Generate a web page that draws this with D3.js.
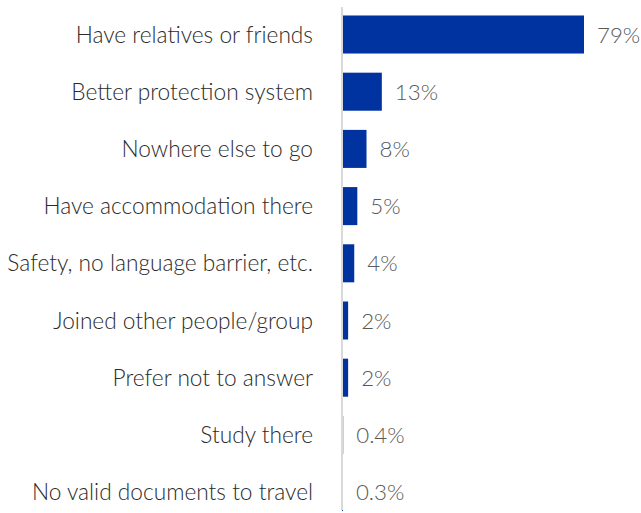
<!DOCTYPE html>
<html>
<head>
<meta charset="utf-8">
<script src="https://cdn.jsdelivr.net/npm/d3@7"></script>
<style>
  html, body { margin: 0; padding: 0; background: #fff; }
  svg { display: block; }
  text { font-family: Lato, "Open Sans", sans-serif; font-weight: 300; }
</style>
</head>
<body>
<svg id="chart" width="641" height="513"></svg>
<script>
// Reasons for choosing the destination (share of respondents, %)
const reasons = [
  "Have relatives or friends",
  "Better protection system",
  "Nowhere else to go",
  "Have accommodation there",
  "Safety, no language barrier, etc.",
  "Joined other people/group",
  "Prefer not to answer",
  "Study there",
  "No valid documents to travel"
];
const shares = [79, 13, 8, 5, 4, 2, 2, 0.4, 0.3];
const shareLabels = ["79%", "13%", "8%", "5%", "4%", "2%", "2%", "0.4%", "0.3%"];

const rows = reasons.map((r, i) => ({ reason: r, value: shares[i], label: shareLabels[i] }));

const svg = d3.select("#chart");
const axisX = 342;

const x = d3.scaleLinear().domain([0, 79]).range([axisX, 584]);
const y = d3.scaleBand()
  .domain(reasons)
  .range([5.9, 520.7])
  .paddingInner(0.335)
  .paddingOuter(0.1675);

// bars
svg.append("g")
  .selectAll("rect")
  .data(rows)
  .join("rect")
  .attr("x", x(0))
  .attr("y", d => y(d.reason))
  .attr("width", d => x(d.value) - x(0))
  .attr("height", y.bandwidth())
  .attr("fill", "#0033a0");

// category axis line
svg.append("line")
  .attr("x1", axisX).attr("x2", axisX)
  .attr("y1", 7).attr("y2", 510)
  .attr("stroke", "#d9d9d9")
  .attr("stroke-width", 2);

// category labels
svg.append("g")
  .selectAll("text")
  .data(rows)
  .join("text")
  .attr("x", 313)
  .attr("y", d => y(d.reason) + y.bandwidth() / 2)
  .attr("dy", "0.36em")
  .attr("text-anchor", "end")
  .attr("font-size", 22.7)
  .attr("fill", "#2b2b2b")
  .text(d => d.reason);

// value labels
svg.append("g")
  .selectAll("text")
  .data(rows)
  .join("text")
  .attr("x", d => x(d.value) + 13)
  .attr("y", d => y(d.reason) + y.bandwidth() / 2)
  .attr("dy", "0.36em")
  .attr("font-size", 22.3)
  .attr("fill", "#595959")
  .text(d => d.label);
</script>
</body>
</html>
